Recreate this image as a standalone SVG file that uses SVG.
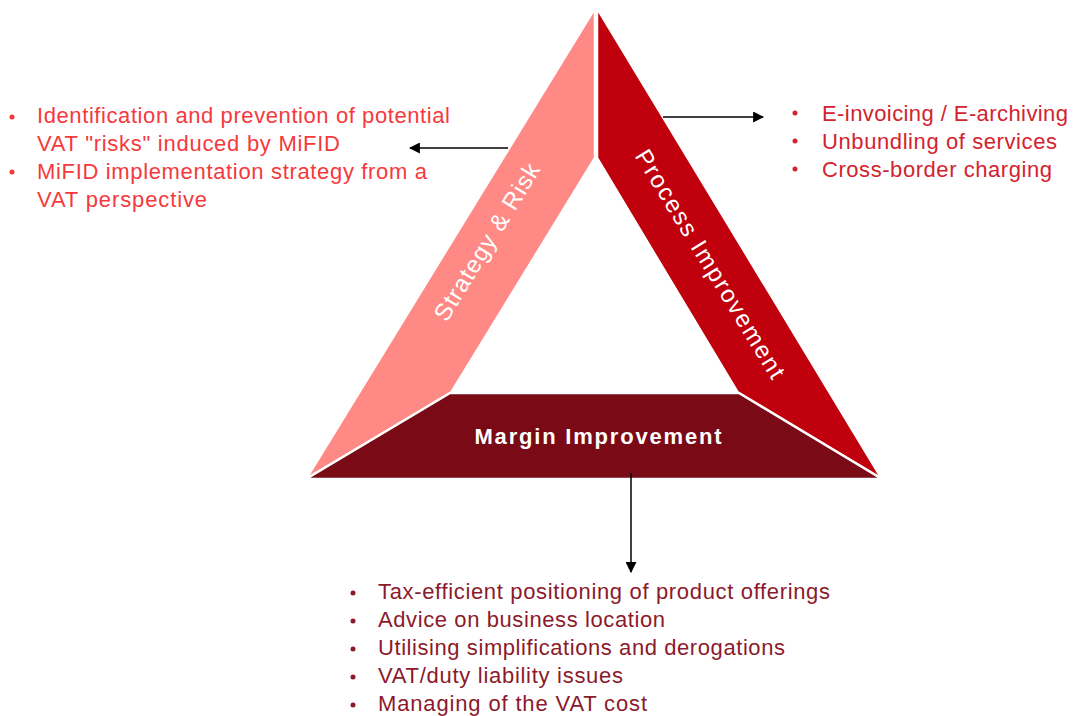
<svg xmlns="http://www.w3.org/2000/svg" width="1074" height="716" viewBox="0 0 1074 716">
  <defs>
    <style>
      .band { stroke: #ffffff; stroke-width: 2.5; stroke-linejoin: miter; }
      .band-label { font-family: "Liberation Sans", Arial, sans-serif; font-size: 24px; fill: #ffffff; text-anchor: middle; }
      .base-label { font-family: "Liberation Sans", Arial, sans-serif; font-size: 22px; font-weight: bold; fill: #ffffff; text-anchor: middle; }
      .list { font-family: "Liberation Sans", Arial, sans-serif; font-size: 22px; }
      .risk { fill: #f5393c; }
      .process { fill: #d2232f; }
      .margin { fill: #8b1a2b; }
      .link { stroke: #000000; stroke-width: 1.5; fill: none; marker-end: url(#head); }
    </style>
    <marker id="head" viewBox="0 0 10 10" refX="9" refY="5" markerWidth="11" markerHeight="11" markerUnits="userSpaceOnUse" orient="auto">
      <path d="M0,0 L10,5 L0,10 z" fill="#000000"/>
    </marker>
  </defs>
  <rect width="1074" height="716" fill="#ffffff"/>

  <!-- Left side of the triangle -->
  <g id="strategy-risk">
    <polygon class="band" points="595,8 595,158 451,393 306,479" fill="#ff8a85"/>
    <text class="band-label" transform="translate(487,242) rotate(-58.5)" y="8" textLength="180" lengthAdjust="spacing">Strategy &amp; Risk</text>
  </g>

  <!-- Right side of the triangle -->
  <g id="process-improvement">
    <polygon class="band" points="597,8 882,479 738,393 597,158" fill="#c0000c"/>
    <text class="band-label" transform="translate(710,264) rotate(58.5)" y="8" textLength="264" lengthAdjust="spacing">Process Improvement</text>
  </g>

  <!-- Base of the triangle -->
  <g id="margin-improvement">
    <polygon class="band" points="450,393 739,393 882,479 306,479" fill="#7a0a16"/>
    <text class="base-label" x="598" y="444" textLength="247" lengthAdjust="spacing">Margin Improvement</text>
  </g>

  <!-- Connectors -->
  <g id="connectors">
    <line class="link" x1="508" y1="148" x2="410" y2="148"/>
    <line class="link" x1="663" y1="117" x2="763" y2="117"/>
    <line class="link" x1="631" y1="473" x2="631" y2="572"/>
  </g>

  <!-- Strategy & Risk topics -->
  <g id="risk-list" class="list risk">
    <circle cx="12" cy="117" r="2.5"/>
    <circle cx="12" cy="172" r="2.5"/>
    <text x="37" y="123" textLength="413" lengthAdjust="spacing">Identification and prevention of potential</text>
    <text x="37" y="151" textLength="303" lengthAdjust="spacing">VAT "risks" induced by MiFID</text>
    <text x="37" y="179" textLength="390" lengthAdjust="spacing">MiFID implementation strategy from a</text>
    <text x="37" y="207" textLength="170" lengthAdjust="spacing">VAT perspective</text>
  </g>

  <!-- Process Improvement topics -->
  <g id="process-list" class="list process">
    <circle cx="795" cy="113" r="2.5"/>
    <circle cx="795" cy="141" r="2.5"/>
    <circle cx="795" cy="169" r="2.5"/>
    <text x="822" y="121" textLength="246" lengthAdjust="spacing">E-invoicing / E-archiving</text>
    <text x="822" y="149" textLength="235" lengthAdjust="spacing">Unbundling of services</text>
    <text x="822" y="177" textLength="230" lengthAdjust="spacing">Cross-border charging</text>
  </g>

  <!-- Margin Improvement topics -->
  <g id="margin-list" class="list margin">
    <circle cx="353" cy="593" r="2.5"/>
    <circle cx="353" cy="621" r="2.5"/>
    <circle cx="353" cy="649" r="2.5"/>
    <circle cx="353" cy="677" r="2.5"/>
    <circle cx="353" cy="705" r="2.5"/>
    <text x="378" y="599" textLength="452" lengthAdjust="spacing">Tax-efficient positioning of product offerings</text>
    <text x="378" y="627" textLength="287" lengthAdjust="spacing">Advice on business location</text>
    <text x="378" y="655" textLength="407" lengthAdjust="spacing">Utilising simplifications and derogations</text>
    <text x="378" y="683" textLength="245" lengthAdjust="spacing">VAT/duty liability issues</text>
    <text x="378" y="711" textLength="269" lengthAdjust="spacing">Managing of the VAT cost</text>
  </g>
</svg>
